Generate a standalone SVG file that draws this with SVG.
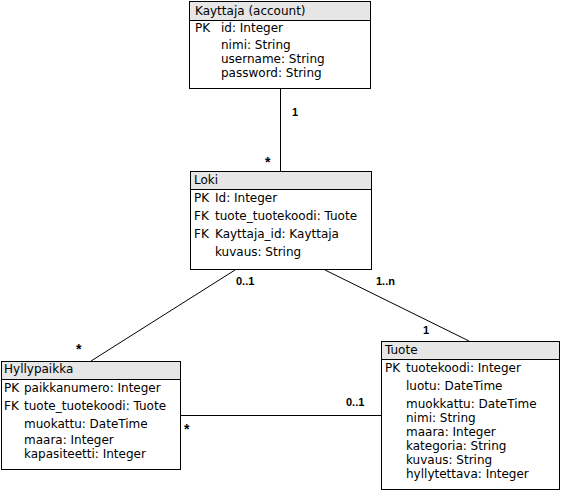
<svg xmlns="http://www.w3.org/2000/svg" width="561" height="491" viewBox="0 0 561 491">
<style>
.box{fill:#ffffff;stroke:#000000;stroke-width:1}
.hdr{fill:#e6e6e6;stroke:none}
.sep{stroke:#000000;stroke-width:1;fill:none}
.t{font-family:"DejaVu Sans",Verdana,sans-serif;font-size:12px;fill:#000000}
.lbl{font-family:"Liberation Sans",Arial,sans-serif;font-size:11px;font-weight:bold;fill:#000000}
.star{font-family:"Liberation Sans",Arial,sans-serif;font-size:14px;font-weight:bold;fill:#000000}
.edge{stroke:#000000;stroke-width:1;fill:none}
</style>
<rect width="561" height="491" fill="#ffffff"/>
<g id="connectors">
<line class="edge" x1="280.5" y1="88" x2="280.5" y2="171"/>
<line class="edge" x1="235" y1="270" x2="91" y2="361"/>
<line class="edge" x1="325" y1="270" x2="469" y2="341"/>
<line class="edge" x1="180" y1="415.5" x2="381" y2="415.5"/>
<text class="lbl" x="292" y="116">1</text>
<text class="star" x="265" y="167">*</text>
<text class="lbl" x="236" y="285">0..1</text>
<text class="star" x="76" y="354">*</text>
<text class="lbl" x="376" y="285">1..n</text>
<text class="lbl" x="423" y="334">1</text>
<text class="lbl" x="346" y="406">0..1</text>
<text class="star" x="184" y="434">*</text>
</g>
<g id="kayttaja">
<rect class="box" x="189.5" y="1.5" width="181" height="87"/>
<rect class="hdr" x="190" y="2" width="180" height="18"/>
<line class="sep" x1="189.5" y1="20.5" x2="370.5" y2="20.5"/>
<text class="t" x="195" y="15">Kayttaja (account)</text>
<text class="t" x="195" y="32">PK</text>
<text class="t" x="221" y="32">id: Integer</text>
<text class="t" x="221" y="49">nimi: String</text>
<text class="t" x="221" y="63">username: String</text>
<text class="t" x="221" y="77">password: String</text>
</g>
<g id="loki">
<rect class="box" x="190.5" y="171.5" width="181" height="98"/>
<rect class="hdr" x="191" y="172" width="180" height="17"/>
<line class="sep" x1="190.5" y1="189.5" x2="371.5" y2="189.5"/>
<text class="t" x="194" y="184">Loki</text>
<text class="t" x="194" y="202">PK</text>
<text class="t" x="215" y="202">Id: Integer</text>
<text class="t" x="194" y="220">FK</text>
<text class="t" x="215" y="220">tuote_tuotekoodi: Tuote</text>
<text class="t" x="194" y="238">FK</text>
<text class="t" x="215" y="238">Kayttaja_id: Kayttaja</text>
<text class="t" x="215" y="256">kuvaus: String</text>
</g>
<g id="hyllypaikka">
<rect class="box" x="1.5" y="361.5" width="179" height="108"/>
<rect class="hdr" x="2" y="362" width="178" height="17"/>
<line class="sep" x1="1.5" y1="379.5" x2="180.5" y2="379.5"/>
<text class="t" x="4" y="373">Hyllypaikka</text>
<text class="t" x="4" y="392">PK</text>
<text class="t" x="24" y="392">paikkanumero: Integer</text>
<text class="t" x="4" y="410">FK</text>
<text class="t" x="24" y="410">tuote_tuotekoodi: Tuote</text>
<text class="t" x="24" y="428">muokattu: DateTime</text>
<text class="t" x="24" y="444">maara: Integer</text>
<text class="t" x="24" y="458">kapasiteetti: Integer</text>
</g>
<g id="tuote">
<rect class="box" x="381.5" y="341.5" width="178" height="148"/>
<rect class="hdr" x="382" y="342" width="177" height="17"/>
<line class="sep" x1="381.5" y1="359.5" x2="559.5" y2="359.5"/>
<text class="t" x="385" y="354">Tuote</text>
<text class="t" x="385" y="372">PK</text>
<text class="t" x="406" y="372">tuotekoodi: Integer</text>
<text class="t" x="406" y="390">luotu: DateTime</text>
<text class="t" x="406" y="408">muokkattu: DateTime</text>
<text class="t" x="406" y="422">nimi: String</text>
<text class="t" x="406" y="436">maara: Integer</text>
<text class="t" x="406" y="450">kategoria: String</text>
<text class="t" x="406" y="464">kuvaus: String</text>
<text class="t" x="406" y="478">hyllytettava: Integer</text>
</g>
</svg>
